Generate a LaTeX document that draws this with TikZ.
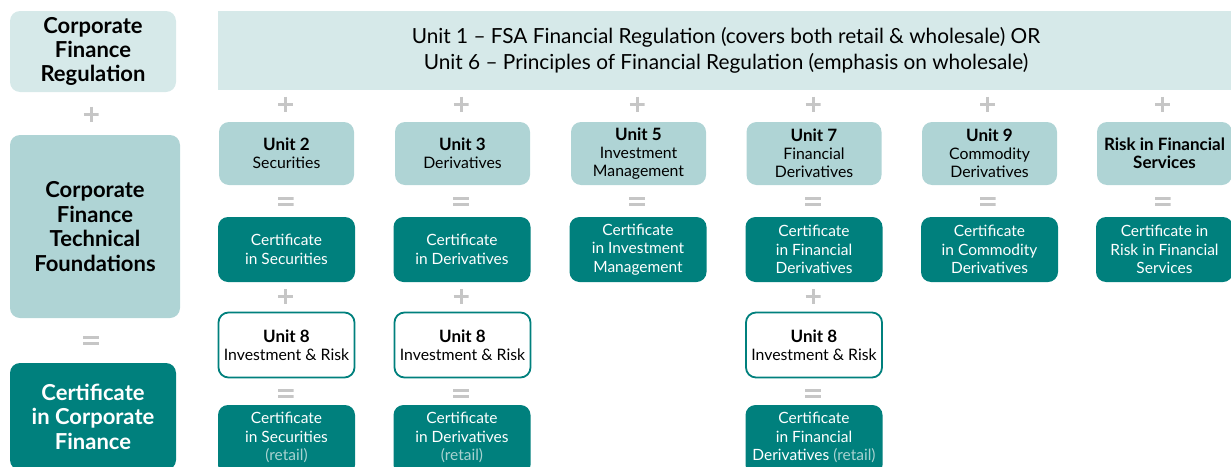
\documentclass[tikz,border=0pt]{standalone}
\usepackage{fontspec}
\setmainfont{Lato}
\definecolor{bannerc}{HTML}{D6E9E9}
\definecolor{unitc}{HTML}{AFD4D5}
\definecolor{tealc}{HTML}{00807D}
\definecolor{symc}{HTML}{C6C6C6}
\definecolor{retailc}{HTML}{A9D3D1}
\tikzset{
  base/.style={rectangle, rounded corners=10pt, inner sep=0pt, align=center, anchor=center},
  leftlight/.style={base, fill=bannerc, minimum width=166pt, font=\fontsize{22}{24}\selectfont\bfseries},
  leftmid/.style={base, fill=unitc, minimum width=170pt, font=\fontsize{22}{24.5}\selectfont\bfseries},
  leftdark/.style={base, fill=tealc, text=white, minimum width=166pt, font=\fontsize{22}{24.5}\selectfont\bfseries},
  banner/.style={base, rounded corners=0pt, fill=bannerc, minimum width=1022pt, minimum height=79pt},
  unitbox/.style={base, fill=unitc, minimum width=135pt, minimum height=63pt, font=\fontsize{15.8}{18}\selectfont},
  certbox/.style={base, fill=tealc, text=white, minimum width=137pt, minimum height=65pt, font=\fontsize{15.5}{18.5}\selectfont},
  certtext/.style={inner sep=0pt, align=center, text=white, font=\fontsize{15.5}{18.5}\selectfont},
  unitwhite/.style={base, fill=white, draw=tealc, line width=1.8pt, minimum width=136pt, minimum height=65pt, font=\fontsize{15.8}{18}\selectfont},
  plussym/.style={rectangle, inner sep=0pt, minimum width=15pt, minimum height=15pt,
    path picture={\draw[symc, line width=3pt] (path picture bounding box.west) -- (path picture bounding box.east)
      (path picture bounding box.north) -- (path picture bounding box.south);}},
  eqsym/.style={rectangle, inner sep=0pt, minimum width=16pt, minimum height=9pt,
    path picture={\fill[symc] (path picture bounding box.north west) rectangle ([yshift=1.5pt]path picture bounding box.east);
      \fill[symc] (path picture bounding box.south west) rectangle ([yshift=-1.5pt]path picture bounding box.east);}},
}
\newcommand{\ub}[1]{{\fontsize{17}{18}\selectfont\bfseries #1}}
\newcommand{\rt}[1]{\textcolor{retailc}{#1}}
\begin{document}
\begin{tikzpicture}[x=1pt,y=-1pt]
\useasboundingbox (0,0) rectangle (1231,466);
\clip (0,0) rectangle (1231,466);
% left column
\node[leftlight, minimum height=81pt] (reg) at (93,51.5) {Corporate\\Finance\\Regulation};
\node[plussym] (lp) at (91,114) {};
\node[leftmid, minimum height=183pt] (tech) at (95,226.5) {Corporate\\Finance\\Technical\\Foundations};
\node[eqsym] (le) at (91,340.5) {};
\node[leftdark, minimum height=107pt] (cf) at (93,416.5) {Certificate\\in Corporate\\Finance};
% banner
\node[banner] (ban) at (729,50.5) {};
\node[inner sep=0pt, align=center, font=\fontsize{20.8}{26}\selectfont] (bant) at (726,50) {Unit 1 -- FSA Financial Regulation (covers both retail \& wholesale) OR\\Unit 6 -- Principles of Financial Regulation (emphasis on wholesale)};
% row symbols
\foreach \x/\n in {285.5/a,461/b,637/c,813/d,987.5/e,1162.5/f}{
  \node[plussym] (p1\n) at (\x,104) {};
  \node[eqsym] (e1\n) at (\x,201.5) {};
}
% unit boxes
\node[unitbox] (u2) at (286.5,153.5) {\ub{Unit 2}\\Securities};
\node[unitbox] (u3) at (462.5,153.5) {\ub{Unit 3}\\Derivatives};
\node[unitbox] (u5) at (638.5,153.5) {\ub{Unit 5}\\Investment\\Management};
\node[unitbox] (u7) at (814,153.5) {\ub{Unit 7}\\Financial\\Derivatives};
\node[unitbox] (u9) at (989.5,153.5) {\ub{Unit 9}\\Commodity\\Derivatives};
\node[unitbox] (urf) at (1164.5,153.5) {\ub{Risk in Financial}\\\ub{Services}};
% certificates
\node[certbox] (c2) at (286.5,249.5) {Certificate\\in Securities};
\node[certbox] (c3) at (462,249.5) {Certificate\\in Derivatives};
\node[certbox] (c5) at (638,249.5) {Certificate\\in Investment\\Management};
\node[certbox] (c7) at (814,249.5) {Certificate\\in Financial\\Derivatives};
\node[certbox] (c9) at (989.5,249.5) {Certificate\\in Commodity\\Derivatives};
\node[certbox] (crf) at (1164.5,249.5) {Certificate in\\Risk in Financial\\Services};
% second stage
\foreach \x/\n in {285.5/a,461/b,813/d}{
  \node[plussym] (p2\n) at (\x,296.5) {};
  \node[eqsym] (e2\n) at (\x,393.5) {};
}
\node[unitwhite] (u8a) at (286.5,345) {\ub{Unit 8}\\Investment \& Risk};
\node[unitwhite] (u8b) at (462.5,345) {\ub{Unit 8}\\Investment \& Risk};
\node[unitwhite] (u8d) at (814,345) {\ub{Unit 8}\\Investment \& Risk};
\node[certbox, minimum height=70pt] (r2) at (286.5,440) {};
\node[certbox, minimum height=70pt] (r3) at (462,440) {};
\node[certbox, minimum height=70pt] (r7) at (814,440) {};
\node[certtext] (r2t) at (286.5,437.5) {Certificate\\in Securities\\\rt{(retail)}};
\node[certtext] (r3t) at (462,437.5) {Certificate\\in Derivatives\\\rt{(retail)}};
\node[certtext] (r7t) at (814,437.5) {Certificate\\in Financial\\Derivatives \rt{(retail)}};
\end{tikzpicture}
\end{document}
